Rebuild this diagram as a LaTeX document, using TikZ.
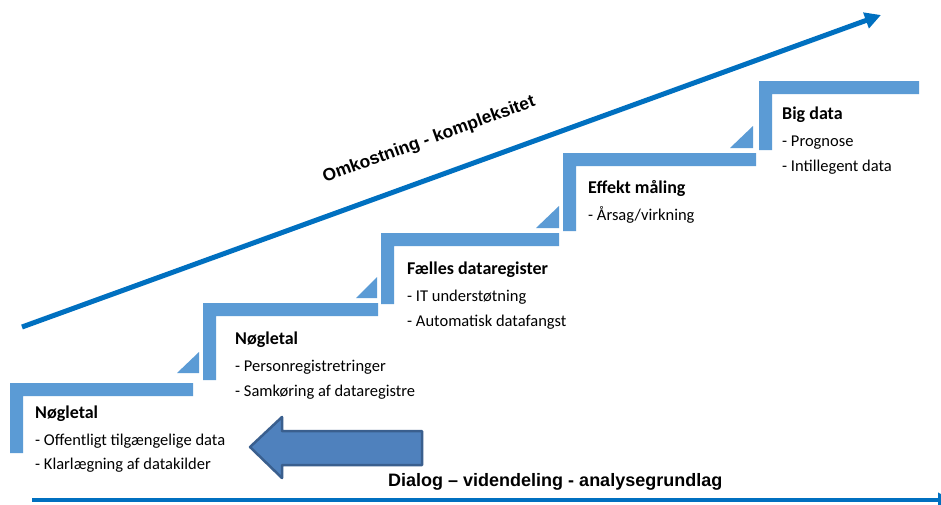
\documentclass[tikz,border=0pt]{standalone}
\usepackage{fontspec}
\setmainfont{Carlito}
\newfontfamily\arialfont{Liberation Sans}
\usetikzlibrary{arrows.meta}
\definecolor{stepblue}{HTML}{5B9BD5}
\definecolor{linblue}{HTML}{0070C0}
\definecolor{arrfill}{HTML}{4F81BD}
\definecolor{arrdraw}{HTML}{3A5F8E}
\tikzset{
  stepband/.style={fill=stepblue, draw=none},
  titletext/.style={anchor=base west, inner sep=0pt, font=\fontsize{18}{21}\selectfont\bfseries},
  itemtext/.style={anchor=base west, inner sep=0pt, font=\fontsize{16.5}{20}\selectfont},
  bigtext/.style={inner sep=0pt, font=\arialfont\bfseries\fontsize{17.5}{21}\selectfont},
  trendline/.style={draw=linblue, line width=5pt, -{Triangle[length=16pt,width=16pt]}},
  bottomline/.style={draw=linblue, line width=4pt, -{Triangle[length=14pt,width=14pt]}},
  blockarrow/.style={fill=arrfill, draw=arrdraw, line width=2.5pt, line join=round}
}
\begin{document}
\begin{tikzpicture}[x=1pt,y=-1pt]
\useasboundingbox (0,0) rectangle (941,504);
\clip (0,0) rectangle (941,504);
\fill[white] (0,0) rectangle (941,504);

% steps (Gamma shapes)
\fill[stepband] (10,453) -- (10,383) -- (193,383) -- (193,396) -- (23,396) -- (23,453) -- cycle;
\fill[stepband] (203,380) -- (203,303) -- (378,303) -- (378,316) -- (216,316) -- (216,380) -- cycle;
\fill[stepband] (381,304) -- (381,233) -- (559,233) -- (559,246) -- (394,246) -- (394,304) -- cycle;
\fill[stepband] (563,231) -- (563,153) -- (756,153) -- (756,166) -- (576,166) -- (576,231) -- cycle;
\fill[stepband] (759,150) -- (759,81) -- (919,81) -- (919,94) -- (772,94) -- (772,150) -- cycle;

% small triangles
\fill[stepband] (177,373) -- (199,373) -- (199,352) -- cycle;
\fill[stepband] (356,298) -- (377,298) -- (377,277) -- cycle;
\fill[stepband] (536,228) -- (559,228) -- (559,206) -- cycle;
\fill[stepband] (730,148) -- (753,148) -- (753,126) -- cycle;

% trend arrow
\coordinate (ts) at (22,327);
\coordinate (te) at (881,15);
\draw[trendline] (ts) -- (te);
\node[bigtext, rotate=20] (omk) at (429,140) {Omkostning - kompleksitet};

% bottom line
\coordinate (bs) at (32,500);
\coordinate (be) at (952,500);
\draw[bottomline] (bs) -- (be);
\node[bigtext, anchor=base west, font=\arialfont\bfseries\fontsize{18}{21}\selectfont] (dia) at (388,486) {Dialog – videndeling - analysegrundlag};

% block arrow
\draw[blockarrow] (250,447) -- (282,417) -- (282,431) -- (422,431) -- (422,465) -- (282,465) -- (282,478) -- cycle;

% texts step 1
\node[titletext] (t1) at (35,418) {Nøgletal};
\node[itemtext] (t1a) at (35,445) {- Offentligt tilgængelige data};
\node[itemtext] (t1b) at (35,469) {- Klarlægning af datakilder};
% step 2
\node[titletext] (t2) at (235,344) {Nøgletal};
\node[itemtext] (t2a) at (235,371) {- Personregistretringer};
\node[itemtext] (t2b) at (235,396) {- Samkøring af dataregistre};
% step 3
\node[titletext] (t3) at (407,274) {Fælles dataregister};
\node[itemtext] (t3a) at (407,301) {- IT understøtning};
\node[itemtext] (t3b) at (407,326) {- Automatisk datafangst};
% step 4
\node[titletext] (t4) at (588,193) {Effekt måling};
\node[itemtext] (t4a) at (588,220) {- Årsag/virkning};
% step 5
\node[titletext] (t5) at (782,119) {Big data};
\node[itemtext] (t5a) at (782,146) {- Prognose};
\node[itemtext] (t5b) at (782,171) {- Intillegent data};
\end{tikzpicture}
\end{document}
